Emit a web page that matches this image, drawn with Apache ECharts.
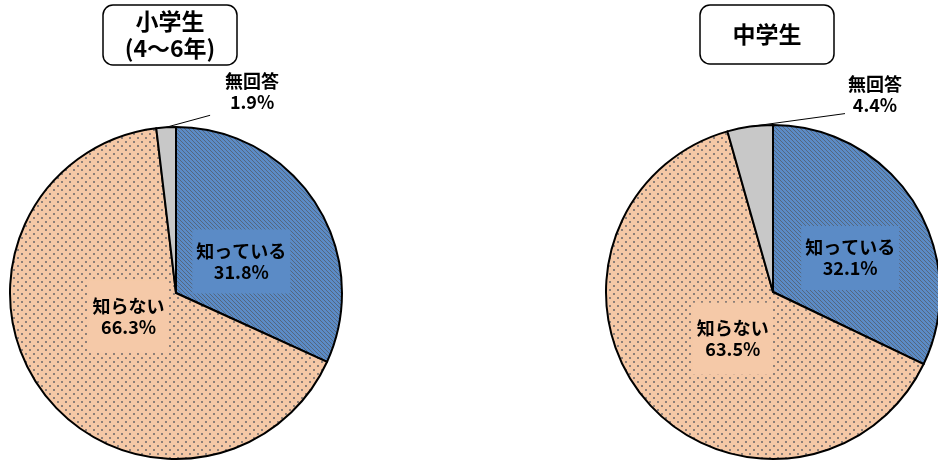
<!DOCTYPE html>
<html>
<head>
<meta charset="utf-8">
<script src="https://cdn.jsdelivr.net/npm/echarts@6/dist/echarts.min.js"></script>
<style>
html,body{margin:0;padding:0;background:#fff;}
#chart{width:938px;height:461px;}
</style>
</head>
<body>
<div id="chart"></div>
<script>
// ---- data ----
const categories = ['知っている', '知らない', '無回答'];
const elementaryValues = [31.8, 66.3, 1.9];
const juniorValues = [32.1, 63.5, 4.4];
const panelTitles = ['小学生\n(4～6年)', '中学生'];

// ---- styles ----
const FONT = '"Noto Sans CJK JP", "Noto Sans", sans-serif';
const BLUE_BG = '#5b8bc6';
const PEACH_BG = '#f5c9a8';
const GRAY = '#c8c8c8';

function stripePattern() {
  const c = document.createElement('canvas');
  c.width = 4; c.height = 4;
  const g = c.getContext('2d');
  g.fillStyle = '#5b8bc6';
  g.fillRect(0, 0, 4, 4);
  g.strokeStyle = 'rgba(80,80,80,0.6)';
  g.lineWidth = 1;
  g.beginPath();
  g.moveTo(-1, -1); g.lineTo(5, 5);
  g.moveTo(-1, 3); g.lineTo(1, 5);
  g.moveTo(3, -1); g.lineTo(5, 1);
  g.stroke();
  return c;
}
function dotPattern() {
  const c = document.createElement('canvas');
  c.width = 8; c.height = 8;
  const g = c.getContext('2d');
  g.fillStyle = '#f5c8a6';
  g.fillRect(0, 0, 8, 8);
  g.fillStyle = '#8c7f78';
  g.fillRect(1, 1, 2, 2);
  g.fillRect(5, 5, 2, 2);
  return c;
}
const fills = [
  { image: stripePattern(), repeat: 'repeat' },
  { image: dotPattern(), repeat: 'repeat' },
  GRAY
];
const labelBgs = [BLUE_BG, PEACH_BG, 'transparent'];
const labelPads = [[8, 4, 14, 4], [14, 4, 16, 4], [0, 0, 0, 0]];

// per-panel label adjustments (relative shifts)
const panels = [
  { center: [176, 293], radius: 166, values: elementaryValues,
    inside: [[-7, 15], [22, -27]], outLabel: [86, -36], outLine: [44, -12] },
  { center: [773, 292], radius: 167, values: juniorValues,
    inside: [[4, 12], [26, -9]], outLabel: [125, -32], outLine: [95, -13] }
];

function buildSeries(p) {
  return {
    type: 'pie',
    center: p.center,
    radius: p.radius,
    startAngle: 90,
    clockwise: true,
    avoidLabelOverlap: false,
    animation: false,
    itemStyle: { borderColor: '#000', borderWidth: 2 },
    emphasis: { disabled: true },
    data: categories.map((name, i) => ({
      name: name,
      value: p.values[i],
      itemStyle: { color: fills[i] },
      label: i < 2 ? {
        position: 'inside',
        backgroundColor: labelBgs[i],
        padding: labelPads[i]
      } : {
        position: 'outside',
        fontSize: 18,
        lineHeight: 21
      },
      labelLine: i < 2 ? { show: false } : {
        show: true, length: 10, length2: 10,
        lineStyle: { color: '#000', width: 1 }
      }
    })),
    label: {
      show: true,
      formatter: '{b}\n{c}%',
      color: '#000',
      fontFamily: FONT,
      fontWeight: 'bold',
      fontSize: 18,
      lineHeight: 21,
      align: 'center'
    },
    labelLayout: function (params) {
      const i = params.dataIndex;
      if (i < 2) {
        return { dx: p.inside[i][0], dy: p.inside[i][1] };
      }
      const s = params.labelLinePoints ? params.labelLinePoints[0] : null;
      if (!s) return {};
      const end = [s[0] + p.outLine[0], s[1] + p.outLine[1]];
      return {
        x: s[0] + p.outLabel[0],
        y: s[1] + p.outLabel[1],
        align: 'center',
        verticalAlign: 'middle',
        labelLinePoints: [[s[0], s[1]], end, end]
      };
    }
  };
}

const chart = echarts.init(document.getElementById('chart'), null, { renderer: 'canvas' });
chart.setOption({
  backgroundColor: '#fff',
  animation: false,
  title: [
    {
      text: panelTitles[0], left: 148, top: 5, textAlign: 'center',
      padding: [3, 22],
      backgroundColor: '#fff', borderColor: '#000', borderWidth: 1.5, borderRadius: 10,
      textStyle: { fontFamily: FONT, fontWeight: 'bold', fontSize: 23, lineHeight: 27, color: '#000' }
    },
    {
      text: panelTitles[1], left: 734, top: 5, textAlign: 'center',
      padding: [16, 33],
      backgroundColor: '#fff', borderColor: '#000', borderWidth: 1.5, borderRadius: 10,
      textStyle: { fontFamily: FONT, fontWeight: 'bold', fontSize: 23, lineHeight: 27, color: '#000' }
    }
  ],
  series: panels.map(buildSeries)
});
</script>
</body>
</html>
